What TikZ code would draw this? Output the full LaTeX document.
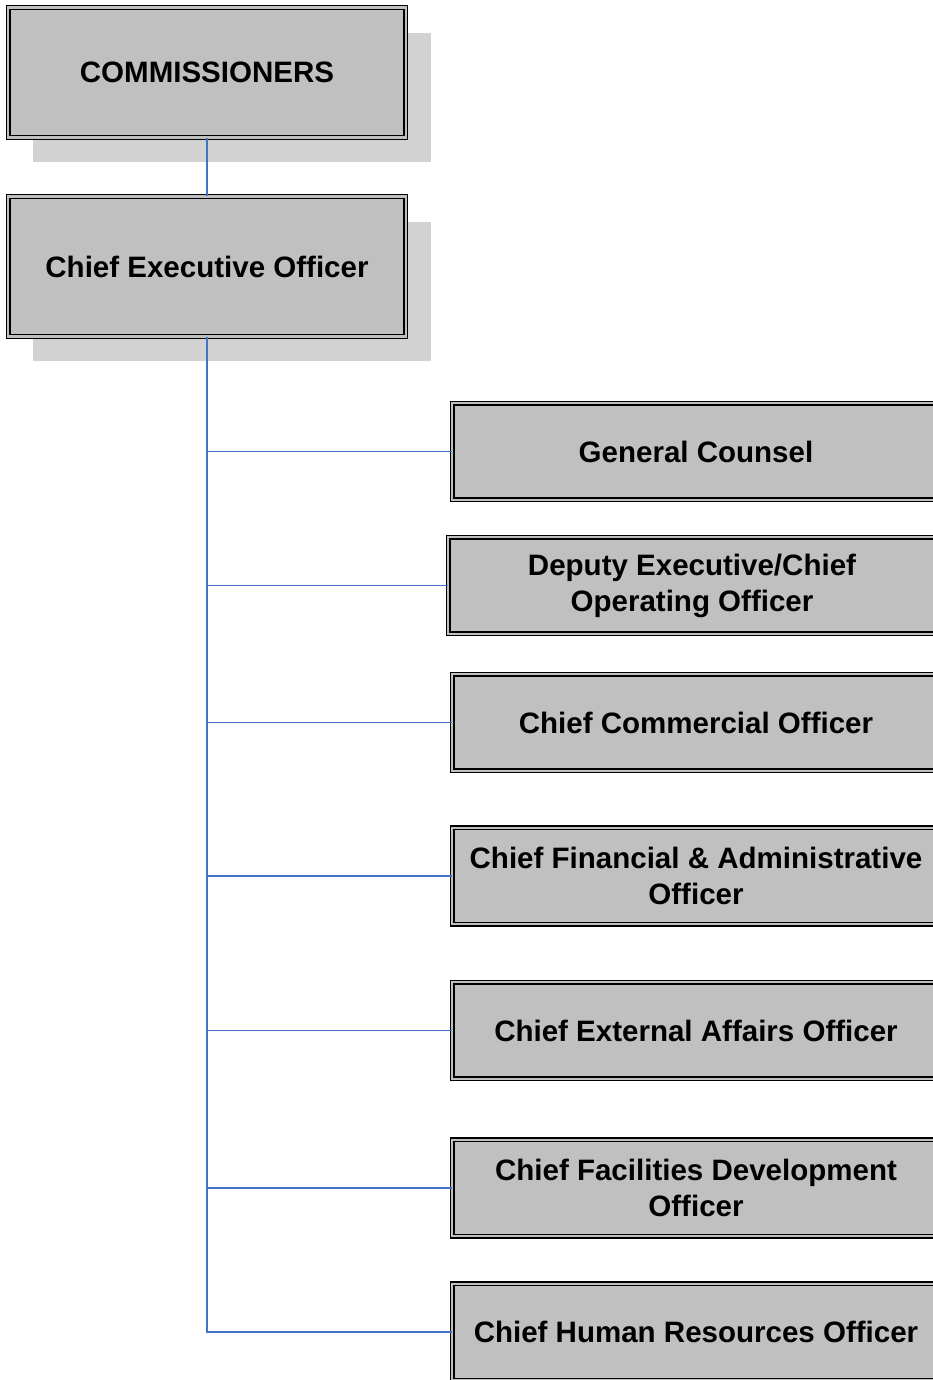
\documentclass[tikz,border=0pt]{standalone}
\usepackage{fontspec}
\setmainfont{Liberation Sans}
\usetikzlibrary{shadows}
\definecolor{boxgray}{RGB}{192,192,192}
\definecolor{shadegray}{RGB}{210,210,210}
\definecolor{linkblue}{RGB}{68,114,196}
\tikzstyle{post} = [rectangle, draw=black, line width=0.65pt, double=boxgray, double distance=1.3pt, fill=boxgray, align=center, font=\fontsize{16.8}{20.5}\selectfont\bfseries]
\tikzstyle{board} = [post, minimum width=7.95cm, general shadow={fill=shadegray, shadow xshift=0.5cm, shadow yshift=-0.5cm}]
\tikzstyle{staff} = [post, minimum width=9.75cm, minimum height=1.93cm]
\tikzstyle{link} = [draw=linkblue, line width=0.8pt]

\begin{document}
\begin{tikzpicture}[x=0.02cm, y=-0.02cm]
    \useasboundingbox (0,0) rectangle (933,1380);
    \clip (0,0) rectangle (933,1380);
    % top of the chart
    \node (comm) [board, minimum height=2.6cm] at (207,72.5) {COMMISSIONERS};
    \node (ceo) [board, minimum height=2.8cm] at (207,266.5) {Chief Executive Officer};
    % officers reporting to the CEO
    \node (gc) [staff] at (696,451.5) {General Counsel};
    \node (deputy) [staff] at (692,585.5) {Deputy Executive/Chief\\Operating Officer};
    \node (cco) [staff] at (696,722.5) {Chief Commercial Officer};
    \node (cfao) [staff] at (696,876) {Chief Financial \& Administrative\\Officer};
    \node (ceao) [staff] at (696,1030.5) {Chief External Affairs Officer};
    \node (cfdo) [staff] at (696,1188) {Chief Facilities Development\\Officer};
    \node (chro) [staff] at (696,1332) {Chief Human Resources Officer};
    % lines
    \draw [link] (comm) -- (ceo);
    \foreach \n in {gc,deputy,cco,cfao,ceao,cfdo,chro}
        \draw [link] (ceo.south) |- (\n.west);
\end{tikzpicture}
\end{document}
